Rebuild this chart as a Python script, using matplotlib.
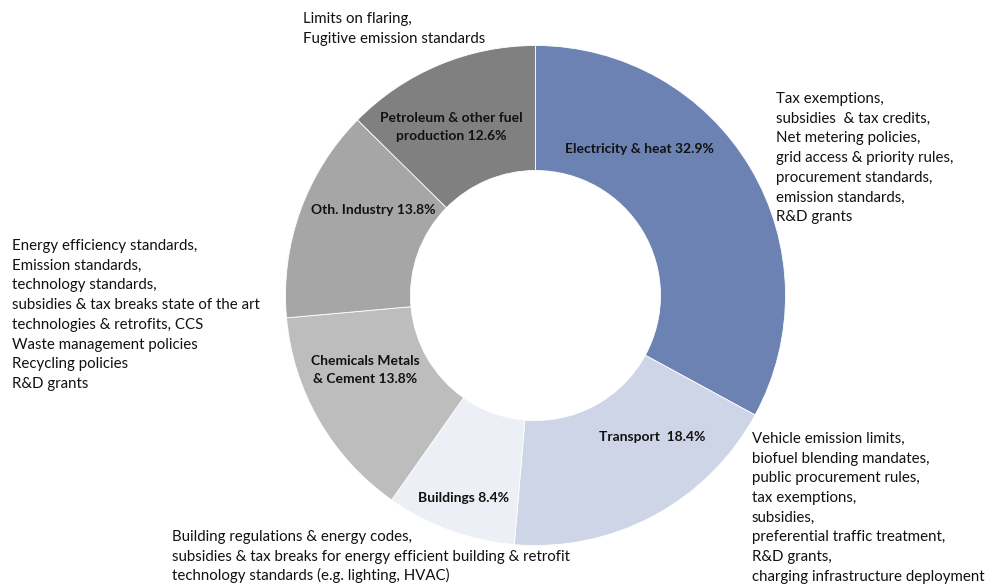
import matplotlib
matplotlib.use("Agg")
import matplotlib.pyplot as plt

# ---- data ----
sectors = ["Electricity & heat", "Transport", "Buildings",
           "Chemicals Metals\n& Cement", "Oth. Industry",
           "Petroleum & other fuel\nproduction"]
shares = [32.9, 18.4, 8.4, 13.8, 13.8, 12.6]
colors = ["#6B82B3", "#CED5E6", "#EDEFF6", "#BDBDBD", "#A6A6A6", "#808080"]

policies_electricity = ["Tax exemptions,", "subsidies  & tax credits,",
                        "Net metering policies,", "grid access & priority rules,",
                        "procurement standards,", "emission standards,", "R&D grants"]
policies_transport = ["Vehicle emission limits,", "biofuel blending mandates,",
                      "public procurement rules,", "tax exemptions,", "subsidies,",
                      "preferential traffic treatment,", "R&D grants,",
                      "charging infrastructure deployment"]
policies_buildings = ["Building regulations & energy codes,",
                      "subsidies & tax breaks for energy efficient building & retrofit",
                      "technology standards (e.g. lighting, HVAC)"]
policies_industry = ["Energy efficiency standards,", "Emission standards,",
                     "technology standards,",
                     "subsidies & tax breaks state of the art",
                     "technologies & retrofits, CCS", "Waste management policies",
                     "Recycling policies", "R&D grants"]
policies_petroleum = ["Limits on flaring,", "Fugitive emission standards"]

W, H = 987, 584
plt.rcParams['font.family'] = ['Lato', 'DejaVu Sans']

fig = plt.figure(figsize=(W / 100, H / 100), dpi=100)
ax = fig.add_axes([0, 0, 1, 1])

def Y(y):
    return H - y

cx, cy, R = 535.5, Y(295.5), 250
ax.pie(shares, colors=colors, startangle=90, counterclock=False,
       center=(cx, cy), radius=R,
       wedgeprops=dict(width=R * 0.5, edgecolor="white", linewidth=0.6))
ax.set_xlim(0, W)
ax.set_ylim(0, H)
ax.set_aspect("equal")
ax.axis("off")

# inner labels
label_pos = [(639, 149), (652, 437), (463, 498), (365, 370), (373, 210), (451, 127)]
for name, v, (x, y) in zip(sectors, shares, label_pos):
    if name.startswith("Transport"):
        txt = f"{name}  {v}%"
    else:
        txt = f"{name} {v}%"
    ax.text(x, Y(y), txt, ha="center", va="center", fontsize=10.0,
            fontweight="bold", color="#111111", linespacing=1.6)

# outer annotations
def block(lines, x, y0, step=19.7):
    for i, s in enumerate(lines):
        ax.text(x, Y(y0 + i * step + 5), s, ha="left", va="baseline",
                fontsize=10.8, color="#111111")

block(policies_petroleum, 303, 18)
block(policies_electricity, 776, 98)
block(policies_industry, 12, 245)
block(policies_transport, 752, 438)
block(policies_buildings, 172, 536)

fig.savefig("out.png", dpi=100)
